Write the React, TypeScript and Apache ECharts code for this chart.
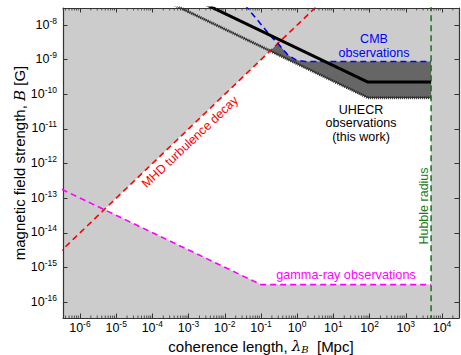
import React, { useEffect, useRef } from "react";
import * as echarts from "echarts";

// axis ranges (Mpc, Gauss)
const X_MIN = 3.4e-7;
const X_MAX = 2.95e4;
const Y_MIN = 3.47e-17;
const Y_MAX = 3.1e-8;

// constraint curves [coherence length (Mpc), B (G)]
const mhdLine = [[1e-7, 1e-15], [10, 1e-7]];
const gammaLine = [[1e-7, 3.2e-13], [0.1, 3.2e-16], [5000, 3.2e-16]];
const hubbleLine = [[5000, 1e-18], [5000, 1e-6]];
const uhecrBest = [[1e-3, 6.8e-8], [90, 2.25e-10], [5000, 2.25e-10]];
const uhecrLower = [[3e-4, 4.4e-8], [90, 8e-11], [5000, 8e-11]];
const cmbLine = [[0.036, 3.8e-8], [0.177, 5.1e-9], [0.335, 2.5e-9], [0.557, 1.36e-9], [0.93, 9.8e-10], [1.64, 8.8e-10], [5000, 8.8e-10]];

// filled regions
const allowedRegion = [[4.7e-6, 4.7e-14], [0.1, 3.2e-16], [5000, 3.2e-16], [5000, 8e-11], [90, 8e-11], [0.18, 1.8e-9]];
const uhecrBand = [[0.18, 1.8e-9], [0.29, 2.9e-9], [0.335, 2.5e-9], [0.557, 1.36e-9], [0.93, 9.8e-10], [1.64, 8.8e-10], [5000, 8.8e-10], [5000, 8e-11], [90, 8e-11]];

// minor tick multipliers on the x axis (2..9 per decade)
const minorMultipliers = [2, 3, 4, 5, 6, 7, 8, 9];
const tickDecades = [-7, -6, -5, -4, -3, -2, -1, 0, 1, 2, 3, 4];

const FONT = "'Liberation Sans', Arial, Helvetica, sans-serif";
const AXIS_COLOR = "#333";

const lg = (pts: number[][]) => pts.map(([x, y]) => [Math.log10(x), Math.log10(y)]);
const LX0 = Math.log10(X_MIN);
const LX1 = Math.log10(X_MAX);
const LY0 = Math.log10(Y_MIN);
const LY1 = Math.log10(Y_MAX);

function powLabel(v: number) {
  const r = Math.round(v);
  if (Math.abs(v - r) > 0.01) return "";
  return `{b|10}{s|${r}}`;
}

const labelRich = {
  b: { fontSize: 12.5, lineHeight: 12, fontFamily: FONT, color: "#000", verticalAlign: "bottom" },
  s: { fontSize: 8.5, lineHeight: 9, fontFamily: FONT, color: "#000", verticalAlign: "bottom", padding: [0, 0, 6, 0] },
};

function polygon(pts: number[][], color: string, z: number) {
  const lp = lg(pts);
  return {
    type: "custom",
    xAxisIndex: 0,
    yAxisIndex: 0,
    clip: true,
    silent: true,
    z,
    data: lp,
    renderItem: (params: any, api: any) => {
      if (params.dataIndex !== 0) return null;
      return {
        type: "polygon",
        shape: { points: lp.map((p) => api.coord(p)) },
        style: { fill: color, stroke: null },
      };
    },
  };
}

function line(data: number[][], color: string, width: number, type: any, z: number) {
  return {
    type: "line",
    data: lg(data),
    showSymbol: false,
    symbol: "none",
    silent: true,
    clip: true,
    z,
    lineStyle: { color, width, type },
  };
}

const minorTicks: number[][] = [];
tickDecades.forEach((d) =>
  minorMultipliers.forEach((m) => {
    const v = Math.log10(m * Math.pow(10, d));
    if (v > LX0 && v < LX1) minorTicks.push([v, LY0]);
  })
);

const minorTickSeries = {
  type: "custom",
  xAxisIndex: 0,
  yAxisIndex: 0,
  clip: false,
  silent: true,
  z: 20,
  data: minorTicks,
  renderItem: (params: any, api: any) => {
    const v = api.value(0);
    const b = api.coord([v, LY0]);
    const t = api.coord([v, LY1]);
    const st = { stroke: AXIS_COLOR, lineWidth: 0.8 };
    return {
      type: "group",
      children: [
        { type: "line", shape: { x1: b[0], y1: b[1], x2: b[0], y2: b[1] - 2.5 }, style: st },
        { type: "line", shape: { x1: t[0], y1: t[1], x2: t[0], y2: t[1] + 2.5 }, style: st },
      ],
    };
  },
};

function makeAxis(kind: "x" | "y", position: string, main: boolean) {
  const isX = kind === "x";
  return {
    type: "value",
    position,
    min: isX ? LX0 : LY0,
    max: isX ? LX1 : LY1,
    splitNumber: isX ? 11 : 9,
    minInterval: 1,
    maxInterval: 1,
    axisLine: { show: true, onZero: false, lineStyle: { color: AXIS_COLOR, width: 1.2 } },
    axisTick: { show: true, inside: true, length: 4.5, lineStyle: { color: AXIS_COLOR, width: 1 } },
    splitLine: { show: false },
    axisLabel: main
      ? { show: true, formatter: powLabel, rich: labelRich, margin: isX ? 4 : 6, showMinLabel: false, showMaxLabel: false }
      : { show: false },
    ...(main
      ? isX
        ? {
            name: "{n|coherence length, }{i|λ}{sub|B}{n|  [Mpc]}",
            nameLocation: "middle",
            nameGap: 20,
            nameMoveOverlap: false,
            nameTextStyle: {
              rich: {
                n: { fontSize: 15, lineHeight: 16, fontFamily: FONT, color: "#000" },
                i: { fontSize: 15, lineHeight: 16, fontFamily: "'DejaVu Serif', serif", fontStyle: "italic", color: "#000" },
                sub: { fontSize: 10, lineHeight: 10, fontFamily: "'DejaVu Serif', serif", fontStyle: "italic", color: "#000", padding: [6, 0, 0, 0] },
              },
            },
          }
        : {
            name: "{n|magnetic field strength, }{i|B}{n| [G]}",
            nameLocation: "middle",
            nameGap: 36,
            nameMoveOverlap: false,
            nameTextStyle: {
              rich: {
                n: { fontSize: 15, fontFamily: FONT, color: "#000" },
                i: { fontSize: 15, fontFamily: "'DejaVu Serif', serif", fontStyle: "italic", color: "#000" },
              },
            },
          }
      : {}),
  };
}

export default function App() {
  const ref = useRef<HTMLDivElement>(null);
  useEffect(() => {
    if (!ref.current) return;
    const chart = echarts.init(ref.current, null, { renderer: "svg" });
    chart.setOption({
      animation: false,
      backgroundColor: "#fff",
      grid: {
        left: 63,
        right: 2,
        top: 8,
        bottom: 37,
        show: true,
        backgroundColor: "#cccccc",
        borderWidth: 0,
        containLabel: false,
        outerBoundsMode: "none",
      },
      xAxis: [makeAxis("x", "bottom", true), makeAxis("x", "top", false)],
      yAxis: [makeAxis("y", "left", true), makeAxis("y", "right", false)],
      series: [
        polygon(allowedRegion, "#ffffff", 1),
        polygon(uhecrBand, "#666666", 2),
        line(gammaLine, "#ff00ff", 1.6, [6, 4], 5),
        line(mhdLine, "#ff0000", 1.6, [6, 4], 5),
        line(hubbleLine, "#1e7a1e", 1.6, [6, 4], 5),
        line(uhecrLower, "#2e2e2e", 1, "solid", 4),
        line(uhecrLower, "#2e2e2e", 3, [1, 1], 4),
        line(cmbLine, "#0000ff", 1.6, [6, 4], 6),
        line(uhecrBest, "#000000", 3, "solid", 7),
        minorTickSeries,
      ],
      graphic: [
        {
          type: "text",
          x: 374,
          y: 46,
          z: 100,
          style: { text: "CMB\nobservations", fill: "#0000ff", font: `12.5px ${FONT}`, align: "center", verticalAlign: "middle", textAlign: "center", textVerticalAlign: "middle", lineHeight: 13.5 },
        },
        {
          type: "text",
          x: 361,
          y: 123,
          z: 100,
          style: { text: "UHECR\nobservations\n(this work)", fill: "#000", font: `12.5px ${FONT}`, align: "center", verticalAlign: "middle", textAlign: "center", textVerticalAlign: "middle", lineHeight: 13.5 },
        },
        {
          type: "text",
          x: 190,
          y: 142,
          rotation: 0.757,
          z: 100,
          style: { text: "MHD turbulence decay", fill: "#ff0000", font: `12.5px ${FONT}`, align: "center", verticalAlign: "middle", textAlign: "center", textVerticalAlign: "middle" },
        },
        {
          type: "text",
          x: 346,
          y: 275,
          z: 100,
          style: { text: "gamma-ray observations", fill: "#ff00ff", font: `12.7px ${FONT}`, align: "center", verticalAlign: "middle", textAlign: "center", textVerticalAlign: "middle" },
        },
        {
          type: "text",
          x: 424,
          y: 206,
          rotation: Math.PI / 2,
          z: 100,
          style: { text: "Hubble radius", fill: "#1e7a1e", font: `12.5px ${FONT}`, align: "center", verticalAlign: "middle", textAlign: "center", textVerticalAlign: "middle" },
        },
      ],
    });
    return () => chart.dispose();
  }, []);
  return <div ref={ref} style={{ position: "fixed", left: 0, top: 0, width: 461, height: 355 }} />;
}
